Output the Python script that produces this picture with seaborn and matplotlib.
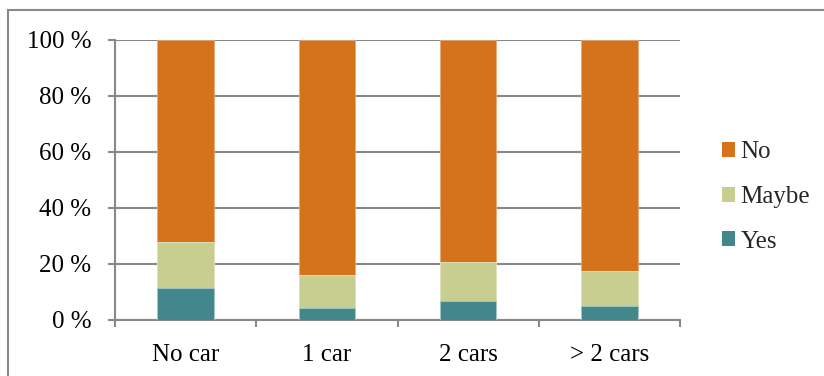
import matplotlib
matplotlib.use("Agg")
import matplotlib.pyplot as plt
from matplotlib.patches import Patch, Rectangle
from matplotlib.ticker import FixedLocator
import numpy as np
import pandas as pd
import seaborn as sns

# Share of answers per household car ownership (percent)
categories = ["No car", "1 car", "2 cars", "> 2 cars"]
yes_pct = [11.3, 4.2, 6.9, 5.0]
maybe_pct = [16.4, 11.9, 13.7, 12.6]
no_pct = [72.3, 83.9, 79.4, 82.4]

colors = {"No": "#D5731C", "Maybe": "#C7CE90", "Yes": "#41878B"}
edges = {"No": "#E8A877", "Maybe": "#E3E8C8", "Yes": "#A8C8CA"}
grid_col = "#898989"
FS = 18

sns.set_theme(style="white")
plt.rcParams["font.family"] = ["Liberation Serif", "DejaVu Serif"]

df = pd.DataFrame({
    "category": categories,
    "Yes": yes_pct,
    "Maybe": maybe_pct,
    "No": no_pct,
})
# cumulative tops for stacking (drawn back to front)
df["top_no"] = df["Yes"] + df["Maybe"] + df["No"]
df["top_maybe"] = df["Yes"] + df["Maybe"]
df["top_yes"] = df["Yes"]

fig = plt.figure(figsize=(8.24, 3.76), dpi=100)
ax = fig.add_axes([115 / 824, 1 - 320 / 376, 565 / 824, 280 / 376])

for key, col in [("No", "top_no"), ("Maybe", "top_maybe"), ("Yes", "top_yes")]:
    sns.barplot(data=df, x="category", y=col, color=colors[key], width=0.4,
                saturation=1, edgecolor=edges[key], linewidth=0.6, ax=ax,
                zorder=3)

ax.set_ylim(0, 100)
ax.set_xlim(-0.5, 3.5)
ax.set_yticks([0, 20, 40, 60, 80, 100])
ax.set_yticklabels([f"{v} %" for v in [0, 20, 40, 60, 80, 100]])
ax.yaxis.grid(True, color=grid_col, linewidth=1.5, zorder=0)
ax.set_xlabel("")
ax.set_ylabel("")

for side in ["top", "right"]:
    ax.spines[side].set_visible(False)
for side in ["left", "bottom"]:
    ax.spines[side].set_color(grid_col)
    ax.spines[side].set_linewidth(1.5)

# boundary ticks on x, labels at category centres
ax.xaxis.set_minor_locator(FixedLocator(np.arange(-0.5, 4.0, 1.0)))
ax.tick_params(axis="x", which="major", length=0, pad=17, labelsize=FS,
               colors="black")
ax.tick_params(axis="x", which="minor", bottom=True, length=5,
               width=1.5, color=grid_col, direction="out")
ax.tick_params(axis="y", which="major", left=True, length=5, width=1.5,
               color=grid_col, direction="out", pad=12, labelsize=FS,
               labelcolor="black")
for lbl in ax.get_xticklabels() + ax.get_yticklabels():
    lbl.set_color("black")

handles = [Patch(facecolor=colors[k], edgecolor="none", label=k)
           for k in ["No", "Maybe", "Yes"]]
fig.legend(handles=handles, loc="center left",
           bbox_to_anchor=(709 / 824, 1 - 197 / 376), frameon=False,
           fontsize=FS, handlelength=0.55, handleheight=0.55,
           handletextpad=0.2, labelspacing=0.9, borderpad=0)

# outer chart border
fig.patches.append(Rectangle((8 / 824, -0.1), 1.2, 1 - 10 / 376 + 0.1,
                             transform=fig.transFigure, fill=False,
                             edgecolor=grid_col, linewidth=1.5))

fig.savefig("out.png", dpi=100)
